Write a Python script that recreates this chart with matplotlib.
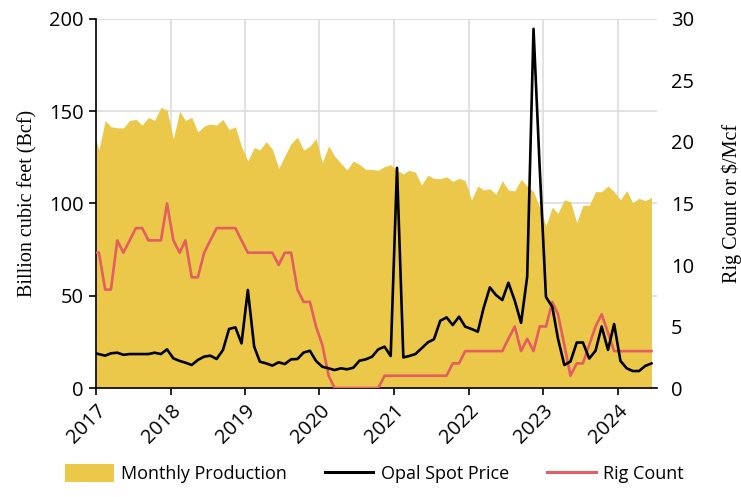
import numpy as np
import pandas as pd
import matplotlib
matplotlib.use('Agg')
import matplotlib.pyplot as plt
import matplotlib.dates as mdates
from matplotlib.patches import Patch
from matplotlib.lines import Line2D

# monthly values, Dec 2016 - Jun 2024 (plotted mid-month)
months = pd.date_range('2016-12-01', '2024-06-01', freq='MS') + pd.Timedelta(days=14)

production = [140,
    129, 145, 141.6, 141, 141, 145, 145.6, 142.5, 146.7, 145, 152, 150.7,
    135, 150, 145, 146.7, 138.7, 142, 143, 142.5, 145.6, 140, 141.6, 130.8,
    123, 130.3, 129, 133.5, 129.5, 119, 125.7, 132.5, 135.9, 129, 131, 135.3,
    122.1, 131.3, 125.7, 121.8, 118.2, 123, 121.2, 118.5, 118.5, 118, 120, 121,
    118, 116, 118, 117, 110, 115.4, 113.6, 113.4, 114.5, 112, 113.6, 112.4,
    101.9, 109.5, 107.3, 108, 105, 112.4, 107.3, 106.8, 113, 109.5, 106.4, 98,
    88, 98, 94.6, 102, 101, 89.6, 99, 99, 106.4, 106.4, 109.5, 106.4,
    102, 107, 100.4, 102.8, 101.5, 103.3]

spot_price = [2.9,
    2.75, 2.63, 2.82, 2.87, 2.7, 2.76, 2.76, 2.76, 2.76, 2.87, 2.76, 3.14,
    2.41, 2.2, 2.06, 1.87, 2.28, 2.55, 2.63, 2.36, 3.09, 4.8, 4.93, 3.63,
    7.97, 3.36, 2.14, 2.0, 1.82, 2.09, 1.95, 2.33, 2.36, 2.88, 3.03, 2.2,
    1.73, 1.6, 1.46, 1.6, 1.52, 1.65, 2.22, 2.33, 2.55, 3.14, 3.36, 2.6,
    17.9, 2.49, 2.6, 2.76, 3.22, 3.71, 3.96, 5.47, 5.74, 5.12, 5.8, 4.99,
    4.8, 4.58, 6.48, 8.18, 7.56, 7.15, 8.56, 7.1, 5.3, 9.05, 29.2, 18.0,
    7.4, 6.6, 4.0, 1.87, 2.15, 3.7, 3.7, 2.4, 3.03, 5.0, 3.1, 5.2,
    2.2, 1.6, 1.38, 1.38, 1.79, 2.0]

rig_count = [11,
    11, 8, 8, 12, 11, 12, 13, 13, 12, 12, 12, 15,
    12, 11, 12, 9, 9, 11, 12, 13, 13, 13, 13, 12,
    11, 11, 11, 11, 11, 10, 11, 11, 8, 7, 7, 5,
    3.5, 1, 0, 0, 0, 0, 0, 0, 0, 0, 1, 1,
    1, 1, 1, 1, 1, 1, 1, 1, 1, 2, 2, 3,
    3, 3, 3, 3, 3, 3, 4, 5, 3, 4, 3, 5,
    5, 7, 6, 3.5, 1, 2, 2, 3.5, 5, 6, 4.5, 3,
    3, 3, 3, 3, 3, 3]

left_ticks = [0, 50, 100, 150, 200]
right_ticks = [0, 5, 10, 15, 20, 25, 30]

fill_color = '#ECC84A'
red = '#E35D62'
sans = 'Open Sans'
serif = 'Liberation Serif'

fig = plt.figure(figsize=(7.41, 4.97), dpi=100)
ax = fig.add_axes([0.1296, 0.2193, 0.757, 0.7425])
ax2 = ax.twinx()

ax.fill_between(months, production, 0, color=fill_color, lw=0, zorder=2)
ax2.plot(months, spot_price, color='black', lw=1.9, zorder=3)
ax2.plot(months, rig_count, color=red, lw=1.9, zorder=2)

ax.set_xlim(pd.Timestamp('2017-01-01'), pd.Timestamp('2024-07-12'))
ax.set_ylim(0, 200)
ax2.set_ylim(0, 30)
ax.set_yticks(left_ticks)
ax2.set_yticks(right_ticks)

ax.xaxis.set_major_locator(mdates.YearLocator())
ax.xaxis.set_major_formatter(mdates.DateFormatter('%Y'))

# grid behind the fill
ax.set_axisbelow(True)
ax.grid(True, color='#DDDDDD', lw=1.2, zorder=0)

for a in (ax, ax2):
    for s in ('top', 'right'):
        a.spines[s].set_visible(False)
ax2.spines['left'].set_visible(False)
ax2.spines['bottom'].set_visible(False)
ax.spines['left'].set_linewidth(1.2)
ax.spines['bottom'].set_linewidth(1.2)

ax.tick_params(axis='y', length=5, width=1.2, labelsize=14.5, pad=4)
ax.tick_params(axis='x', length=5, width=1.2, labelsize=14.5, pad=4)
ax2.tick_params(axis='y', length=0, labelsize=14.5, pad=10)
for lab in ax.get_yticklabels() + ax2.get_yticklabels():
    lab.set_family(sans)
for lab in ax.get_xticklabels():
    lab.set_family(sans)
    lab.set_rotation(45)
    lab.set_ha('right')
    lab.set_rotation_mode('anchor')

ax.set_ylabel('Billion cubic feet (Bcf)', family=serif, fontsize=14.5, labelpad=8)
ax2.set_ylabel('Rig Count or $/Mcf', family=serif, fontsize=14.5, labelpad=20)

handles = [Patch(facecolor=fill_color, edgecolor='none'),
           Line2D([], [], color='black', lw=2.2),
           Line2D([], [], color=red, lw=2.2)]
labels = ['Monthly Production', 'Opal Spot Price', 'Rig Count']
fig.legend(handles, labels, loc='lower center', bbox_to_anchor=(0.505, -0.005),
           ncol=3, frameon=False, prop={'family': sans, 'size': 13},
           handlelength=2.7, handleheight=1.1, handletextpad=0.4,
           columnspacing=2.1)

fig.savefig('out.png', dpi=100)
